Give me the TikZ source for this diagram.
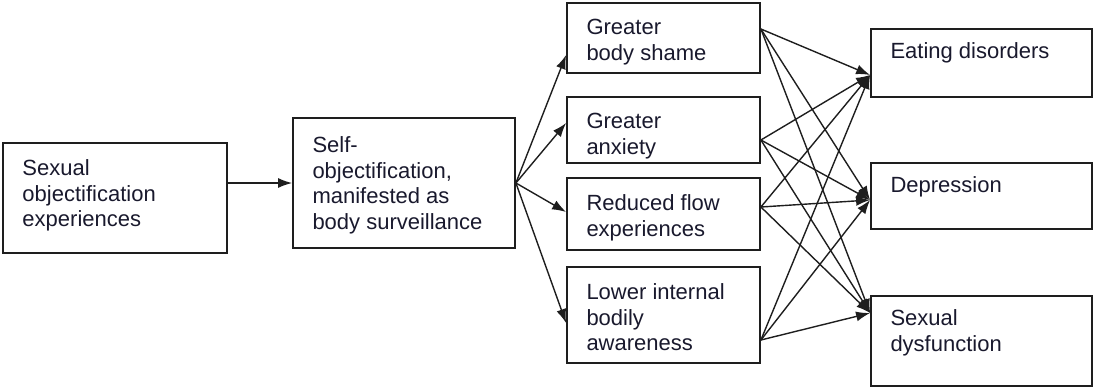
\documentclass[tikz,border=0pt]{standalone}
\usepackage{fontspec}
\setmainfont{Liberation Sans}
\usetikzlibrary{arrows.meta, calc}

\definecolor{inkline}{RGB}{30,30,30}
\definecolor{inktext}{RGB}{25,25,45}

\tikzset{
  box/.style={draw=inkline, line width=0.9pt, rectangle, inner sep=0pt},
  txt/.style={anchor=north west, align=left, inner sep=0pt, xshift=10pt, yshift=-8.5pt,
    text=inktext, font=\fontsize{11}{12.8}\selectfont},
  arr/.style={draw=inkline, line width=0.7pt, -{Latex[length=7pt,width=5pt]}}
}

\begin{document}
\begin{tikzpicture}[x=0.5pt, y=-0.5pt]
\useasboundingbox (0,0) rectangle (1093,387);

\node[box, minimum width=112pt, minimum height=55pt,
  label={[txt]north west:{Sexual\\objectification\\experiences}}] (soe) at (115,198) {};
\node[box, minimum width=111pt, minimum height=65pt,
  label={[txt, yshift=-1pt]north west:{Self-\\objectification,\\manifested as\\body surveillance}}] (sob) at (404,183) {};

\node[box, minimum width=96.5pt, minimum height=35pt,
  label={[txt]north west:{Greater\\body shame}}] (shame) at (663.5,38) {};
\node[box, minimum width=96.5pt, minimum height=33pt,
  label={[txt]north west:{Greater\\anxiety}}] (anx) at (663.5,130) {};
\node[box, minimum width=96.5pt, minimum height=36pt,
  label={[txt]north west:{Reduced flow\\experiences}}] (flow) at (663.5,214) {};
\node[box, minimum width=96.5pt, minimum height=48pt,
  label={[txt]north west:{Lower internal\\bodily\\awareness}}] (aware) at (663.5,315) {};

\node[box, minimum width=110.5pt, minimum height=34pt,
  label={[txt, yshift=1.5pt]north west:{Eating disorders}}] (eat) at (981.5,63) {};
\node[box, minimum width=110.5pt, minimum height=33pt,
  label={[txt, yshift=1.5pt]north west:{Depression}}] (dep) at (981.5,196) {};
\node[box, minimum width=110.5pt, minimum height=45pt,
  label={[txt, yshift=1.5pt]north west:{Sexual\\dysfunction}}] (sex) at (981.5,341) {};

\draw[arr] (soe.east |- sob.west) -- (sob.west);

\draw[arr] (sob.east) -- ($(shame.west)+(0,17)$);
\draw[arr] (sob.east) -- ($(anx.west)+(0,-7)$);
\draw[arr] (sob.east) -- ($(flow.west)+(0,-2)$);
\draw[arr] (sob.east) -- ($(aware.west)+(0,8)$);

\coordinate (o1) at ($(shame.east)+(0,-9)$);
\coordinate (o2) at ($(anx.east)+(0,10)$);
\coordinate (o3) at ($(flow.east)+(0,-7)$);
\coordinate (o4) at ($(aware.east)+(0,25)$);
\coordinate (i1) at ($(eat.west)+(0,12)$);
\coordinate (i2) at ($(dep.west)+(0,4)$);
\coordinate (i3) at ($(sex.west)+(0,-28)$);

\foreach \s in {o1,o2,o3,o4}
  \foreach \t in {i1,i2,i3}
    \draw[arr] (\s) -- (\t);
\end{tikzpicture}
\end{document}
